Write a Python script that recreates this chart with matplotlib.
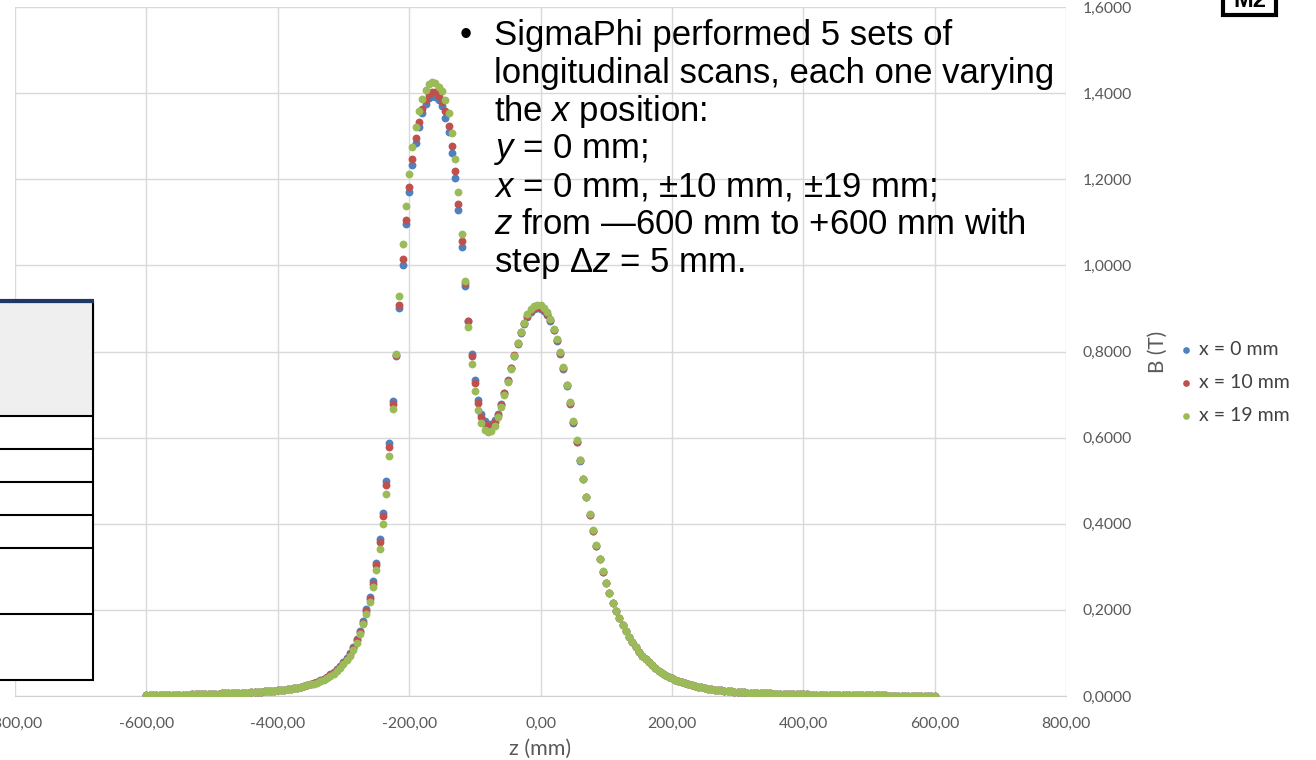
import numpy as np
import matplotlib.pyplot as plt
from matplotlib.patches import Rectangle

plt.rcParams['mathtext.fontset'] = 'custom'
plt.rcParams['mathtext.rm'] = 'Liberation Sans'
plt.rcParams['mathtext.it'] = 'Liberation Sans:italic'

# scan grid: z from -600 mm to +600 mm, step 5 mm
z_mm = np.arange(-600, 601, 5)

# B (T) far from the magnet, z = -600 ... -355 (same for every x)
tail_left = [
    0.002, 0.002, 0.002, 0.002, 0.002, 0.002, 0.002, 0.003, 0.003, 0.003,
    0.003, 0.003, 0.003, 0.003, 0.004, 0.004, 0.004, 0.004, 0.004, 0.005,
    0.005, 0.005, 0.005, 0.006, 0.006, 0.006, 0.007, 0.007, 0.007, 0.008,
    0.008, 0.008, 0.009, 0.009, 0.010, 0.010, 0.011, 0.011, 0.012, 0.012,
    0.013, 0.014, 0.015, 0.016, 0.017, 0.018, 0.019, 0.021, 0.023, 0.025,
]

# z = -350 ... 95
core_x0 = [
    0.028, 0.030, 0.033, 0.036, 0.040, 0.045, 0.050, 0.056, 0.062, 0.070,
    0.079, 0.088, 0.099, 0.114, 0.133, 0.152, 0.175, 0.202, 0.231, 0.267,
    0.309, 0.364, 0.425, 0.500, 0.588, 0.684, 0.790, 0.902, 1.002, 1.095,
    1.170, 1.233, 1.284, 1.322, 1.353, 1.374, 1.388, 1.394, 1.392, 1.385,
    1.371, 1.343, 1.310, 1.262, 1.202, 1.128, 1.043, 0.953, 0.870, 0.795,
    0.733, 0.687, 0.655, 0.638, 0.631, 0.632, 0.640, 0.655, 0.677, 0.704,
    0.733, 0.762, 0.790, 0.818, 0.843, 0.864, 0.880, 0.891, 0.898, 0.900,
    0.899, 0.894, 0.885, 0.870, 0.849, 0.824, 0.795, 0.760, 0.721, 0.679,
    0.635, 0.590, 0.546, 0.503, 0.461, 0.421, 0.384, 0.349, 0.318, 0.289,
]
core_x10 = [
    0.027, 0.030, 0.032, 0.035, 0.039, 0.044, 0.049, 0.054, 0.061, 0.068,
    0.077, 0.086, 0.097, 0.111, 0.129, 0.148, 0.170, 0.197, 0.225, 0.260,
    0.305, 0.357, 0.417, 0.491, 0.578, 0.679, 0.792, 0.907, 1.014, 1.105,
    1.183, 1.247, 1.295, 1.334, 1.363, 1.384, 1.399, 1.403, 1.402, 1.394,
    1.380, 1.359, 1.324, 1.278, 1.219, 1.143, 1.057, 0.960, 0.870, 0.790,
    0.726, 0.680, 0.648, 0.631, 0.625, 0.627, 0.636, 0.652, 0.675, 0.703,
    0.732, 0.762, 0.791, 0.819, 0.845, 0.866, 0.883, 0.894, 0.901, 0.903,
    0.902, 0.897, 0.888, 0.872, 0.851, 0.826, 0.796, 0.761, 0.722, 0.680,
    0.636, 0.591, 0.547, 0.504, 0.462, 0.421, 0.384, 0.349, 0.318, 0.289,
]
core_x19 = [
    0.027, 0.029, 0.031, 0.034, 0.038, 0.042, 0.047, 0.052, 0.059, 0.066,
    0.074, 0.083, 0.093, 0.106, 0.123, 0.143, 0.167, 0.191, 0.219, 0.252,
    0.293, 0.341, 0.400, 0.470, 0.558, 0.667, 0.795, 0.930, 1.050, 1.138,
    1.213, 1.274, 1.322, 1.359, 1.386, 1.408, 1.421, 1.426, 1.423, 1.415,
    1.405, 1.384, 1.353, 1.307, 1.248, 1.170, 1.074, 0.964, 0.857, 0.772,
    0.708, 0.663, 0.633, 0.617, 0.612, 0.615, 0.628, 0.648, 0.671, 0.700,
    0.730, 0.760, 0.790, 0.820, 0.846, 0.867, 0.886, 0.898, 0.905, 0.908,
    0.907, 0.902, 0.891, 0.876, 0.853, 0.828, 0.798, 0.764, 0.723, 0.682,
    0.638, 0.595, 0.549, 0.505, 0.463, 0.422, 0.385, 0.350, 0.319, 0.290,
]

# z = 100 ... 600 (same for every x)
tail_right = [
    0.262, 0.239, 0.217, 0.198, 0.181, 0.165, 0.150, 0.137, 0.125, 0.113,
    0.102, 0.093, 0.085, 0.078, 0.071, 0.065, 0.059, 0.054, 0.049, 0.045,
    0.041, 0.038, 0.035, 0.032, 0.030, 0.027, 0.025, 0.023, 0.022, 0.020,
    0.019, 0.017, 0.016, 0.015, 0.014, 0.013, 0.012, 0.012, 0.011, 0.010,
    0.010, 0.009, 0.009, 0.008, 0.008, 0.007, 0.007, 0.007, 0.006, 0.006,
    0.006, 0.005, 0.005, 0.005, 0.005, 0.005, 0.004, 0.004, 0.004, 0.004,
    0.004, 0.004, 0.003, 0.003, 0.003, 0.003, 0.003, 0.003, 0.003, 0.003,
    0.003, 0.002, 0.002, 0.002, 0.002, 0.002, 0.002, 0.002, 0.002, 0.002,
    0.002, 0.002, 0.002, 0.002, 0.002, 0.002, 0.001, 0.001, 0.001, 0.001,
    0.001, 0.001, 0.001, 0.001, 0.001, 0.001, 0.001, 0.001, 0.001, 0.001,
    0.001,
]

series = [
    ('x = 0 mm', tail_left + core_x0 + tail_right, '#4F81BD'),
    ('x = 10 mm', tail_left + core_x10 + tail_right, '#C0504D'),
    ('x = 19 mm', tail_left + core_x19 + tail_right, '#9BBB59'),
]

x_ticks = np.arange(-800, 801, 200)
y_ticks = np.arange(0, 1.61, 0.2)

W, H = 1316, 760
fig = plt.figure(figsize=(W / 100, H / 100), dpi=100)
ax = fig.add_axes([15 / W, 64 / H, 1051 / W, 689 / H])

for label, b, color in series:
    ax.scatter(z_mm, b, s=32, color=color, label=label, linewidths=0, zorder=3)

ax.set_xlim(-800, 800)
ax.set_ylim(0, 1.6)
ax.set_xticks(x_ticks)
ax.set_xticklabels([f'{v:.2f}'.replace('.', ',') for v in x_ticks])
ax.set_yticks(y_ticks)
ax.set_yticklabels([f'{v:.4f}'.replace('.', ',') for v in y_ticks])
ax.yaxis.tick_right()
ax.tick_params(length=0, labelsize=11.3, labelcolor='#595959')
ax.tick_params(axis='x', pad=15)
ax.tick_params(axis='y', pad=12)
for lab in ax.get_xticklabels() + ax.get_yticklabels():
    lab.set_fontfamily('Lato')
ax.grid(True, color='#d9d9d9', lw=1)
for side in ['top', 'left', 'right']:
    ax.spines[side].set_visible(False)
ax.spines['bottom'].set_color('#d0d0d0')

ax.set_xlabel('z (mm)', fontsize=15.5, color='#595959', fontfamily='Lato')
ax.xaxis.set_label_coords((540 - 15) / 1051, -43 / 689)
ax.yaxis.set_label_position('right')
ax.set_ylabel('B (T)', fontsize=15, color='#595959', fontfamily='Lato', rotation=90)
ax.yaxis.set_label_coords((1148 - 15) / 1051, (696 - 352) / 689)

leg = ax.legend(loc='upper left', bbox_to_anchor=(1166 / W, 1 - 333 / H),
                bbox_transform=fig.transFigure, frameon=False, fontsize=14,
                markerscale=0.85, handletextpad=0.0, labelspacing=0.82,
                borderaxespad=0, handlelength=1.3)
for t in leg.get_texts():
    t.set_color('#404040')
    t.set_fontfamily('Lato')

# overlay layer in pixel coordinates for the slide elements
ov = fig.add_axes([0, 0, 1, 1], zorder=5)
ov.set_xlim(0, W)
ov.set_ylim(H, 0)
ov.axis('off')
ov.patch.set_alpha(0)

# table cut at the left edge
ov.add_patch(Rectangle((-5, 302), 98, 378, facecolor='white', edgecolor='black', lw=1.5))
ov.add_patch(Rectangle((-5, 302), 98, 114, facecolor='#efefef', edgecolor='black', lw=1.5))
for y in [449, 482, 515, 548, 614]:
    ov.plot([-5, 93], [y, y], color='black', lw=1.5)
ov.plot([-5, 94], [301, 301], color='#1F3864', lw=3, solid_capstyle='butt')

# slide tag in the corner
ov.add_patch(Rectangle((1223, -30), 53, 45, facecolor='white', edgecolor='black', lw=3))
ov.text(1249.5, 7, 'M2', ha='center', va='baseline', fontsize=17, fontweight='bold',
        fontfamily='Liberation Sans', color='black')

# bullet text
lines = [
    'SigmaPhi performed 5 sets of',
    'longitudinal scans, each one varying',
    r'the $x$ position:',
    r'$y$ = 0 mm;',
    r'$x$ = 0 mm, ±10 mm, ±19 mm;',
    r'$z$ from —600 mm to +600 mm with',
    r'step Δ$z$ = 5 mm.',
]
ov.text(466, 45, '•', ha='center', va='baseline', fontsize=25, fontfamily='Liberation Sans')
for i, s in enumerate(lines):
    ov.text(494, 45 + 37.8 * i, s, ha='left', va='baseline', fontsize=25,
            fontfamily='Liberation Sans', color='black')

fig.savefig('out.png', dpi=100)
